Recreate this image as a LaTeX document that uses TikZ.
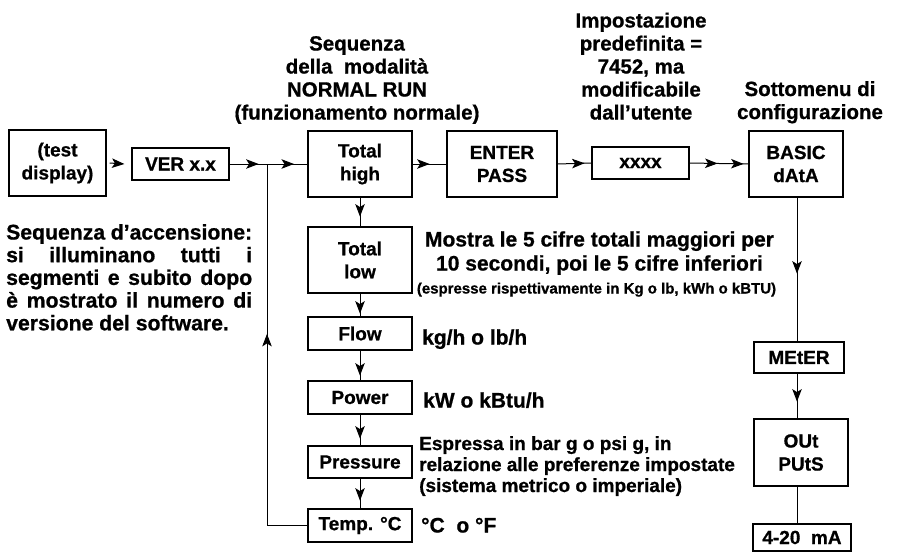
\documentclass[tikz,border=0pt]{standalone}
\usepackage{fontspec}
\setmainfont{Liberation Sans}[BoldFeatures={FakeBold=0.8}]
\usetikzlibrary{arrows.meta,decorations.markings}
\tikzset{hd/.tip={Stealth[length=12.5pt,width=9.5pt,inset=3pt]}}
\begin{document}
\begin{tikzpicture}[x=1pt,y=-1pt,
  box/.style={draw, line width=1.2pt, inner sep=0pt, align=center,
    font=\fontsize{19}{23}\selectfont\bfseries},
  conn/.style={line width=1pt},
  ah/.style={postaction={decorate}, decoration={markings,
    mark=at position #1 with {\arrow{hd}}}},
  ah2/.style 2 args={postaction={decorate}, decoration={markings,
    mark=at position #1 with {\arrow{hd}},
    mark=at position #2 with {\arrow{hd}}}},
  lbl/.style={inner sep=0pt, font=\fontsize{20.5}{23}\selectfont\bfseries},
]
\useasboundingbox (0,0) rectangle (897,554);

% top row
\node[box, minimum width=97pt, minimum height=66pt] (td) at (57.5,163) {(test\\display)};
\node[box, minimum width=97pt, minimum height=32pt] (ver) at (180.5,164) {VER x.x};
\coordinate (jn) at (267,164);
\node[box, minimum width=104pt, minimum height=66pt] (th) at (360,164) {Total\\high};
\node[box, minimum width=110pt, minimum height=66pt] (ep) at (502,164) {ENTER\\PASS};
\node[box, minimum width=97pt, minimum height=32pt] (xx) at (640.5,163) {xxxx};
\node[box, minimum width=94pt, minimum height=66pt] (bd) at (796,164) {BASIC\\dAtA};

% left column
\node[box, minimum width=104pt, minimum height=66pt] (tl) at (360,260) {Total\\low};
\node[box, minimum width=104pt, minimum height=33pt] (fl) at (360,333.5) {Flow};
\node[box, minimum width=104pt, minimum height=33pt] (pw) at (360,397.5) {Power};
\node[box, minimum width=104pt, minimum height=32pt] (pr) at (360,462) {Pressure};
\node[box, minimum width=104pt, minimum height=33pt] (tc) at (360,525.5) {Temp. °C};

% right column
\node[box, minimum width=90pt, minimum height=31pt] (mt) at (799,357.5) {MEtER};
\node[box, minimum width=94pt, minimum height=67pt] (op) at (801,452.5) {OUt\\PUtS};
\node[box, minimum width=98pt, minimum height=27pt] (ma) at (802,537.5) {4-20~~mA};

% connectors
\draw[conn, -{hd}] ([xshift=3pt]td.east) -- ([xshift=-7pt]ver.west);
\draw[conn, ah=29pt] (ver.east) -- (jn);
\draw[conn, ah=27pt] (jn) -- (th.west);
\draw[conn, ah=17pt] (th.east) -- (ep.west);
\draw[conn, ah=27pt] (ep.east) -- (xx.west);
\draw[conn, ah2={28pt}{54pt}] (xx.east) -- (bd.west);
\draw[conn, ah=19pt] (th.south) -- (tl.north);
\draw[conn, ah=20pt] (tl.south) -- (fl.north);
\draw[conn, ah=25pt] (fl.south) -- (pw.north);
\draw[conn, ah=24pt] (pw.south) -- (pr.north);
\draw[conn, ah=22pt] (pr.south) -- (tc.north);
\draw[conn, ah=232pt] (tc.west) -- (tc.west -| jn) -- (jn);
\draw[conn, ah=76pt] (bd.south -| 797,0) -- (mt.north -| 797,0);
\draw[conn, ah=28pt] (mt.south -| 797,0) -- (op.north -| 797,0);
\draw[conn] (op.south -| 797,0) -- (ma.north -| 797,0);

% texts
\node[lbl, anchor=base] (seq) at (357,50.5) {\parbox[t]{260pt}{\centering
  Sequenza\\della~~modalità\\NORMAL RUN\\(funzionamento normale)}};
\node[lbl, anchor=base] (imp) at (641,27.5) {\parbox[t]{160pt}{\centering
  Impostazione\\predefinita =\\7452, ma\\modificabile\\dall’utente}};
\node[lbl, anchor=base] (sott) at (810,96) {\parbox[t]{170pt}{\centering
  Sottomenu di\\configurazione}};

\node[lbl, anchor=base west, font=\fontsize{21.2}{22.7}\selectfont\bfseries] (acc) at (6,239.5) {\parbox[t]{246pt}{%
  \makebox[246pt][s]{Sequenza d’accensione:}\\
  \makebox[246pt][s]{si illuminano tutti i}\\
  \makebox[246pt][s]{segmenti e subito dopo}\\
  \makebox[246pt][s]{è mostrato il numero di}\\
  versione del software.}};

\node[lbl, anchor=base, font=\fontsize{21}{24}\selectfont\bfseries] (mos) at (599.5,246.5) {\parbox[t]{400pt}{\centering
  Mostra le 5 cifre totali maggiori per\\10 secondi, poi le 5 cifre inferiori}};
\node[lbl, anchor=base, font=\fontsize{15}{18}\selectfont\bfseries] (esp1) at (596.5,293.5) {(espresse rispettivamente in Kg o lb, kWh o kBTU)};

\node[lbl, anchor=base west, font=\fontsize{21}{24}\selectfont\bfseries] (kg) at (422,344.5) {kg/h o lb/h};
\node[lbl, anchor=base west, font=\fontsize{21}{24}\selectfont\bfseries] (kw) at (423,407.5) {kW o kBtu/h};
\node[lbl, anchor=base west, font=\fontsize{19}{21}\selectfont\bfseries] (esp2) at (419,450) {\parbox[t]{380pt}{%
  Espressa in bar g o psi g, in\\relazione alle preferenze impostate\\(sistema metrico o imperiale)}};
\node[lbl, anchor=base west, font=\fontsize{21}{24}\selectfont\bfseries] (deg) at (421,532.5) {°C~~o °F};
\end{tikzpicture}
\end{document}
